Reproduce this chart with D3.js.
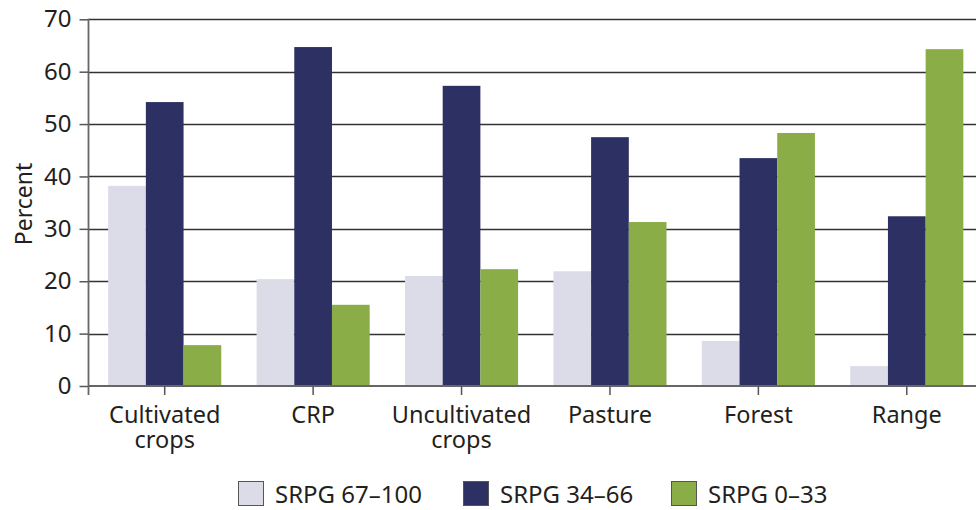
<!DOCTYPE html>
<html><head><meta charset="utf-8">
<script src="https://cdn.jsdelivr.net/npm/d3@7"></script>
<style>body{margin:0;background:#fff}svg{display:block}text{font-family:"Noto Sans",sans-serif;fill:#231f20}</style>
</head><body>
<svg id="chart" width="976" height="510"></svg>
<script>
const categories = [["Cultivated","crops"],["CRP"],["Uncultivated","crops"],["Pasture"],["Forest"],["Range"]];
const seriesNames = ["SRPG 67–100","SRPG 34–66","SRPG 0–33"];
const srpgHigh = [38.2, 20.4, 21.0, 21.9, 8.6, 3.8];
const srpgMid  = [54.2, 64.7, 57.3, 47.5, 43.5, 32.4];
const srpgLow  = [7.8, 15.5, 22.3, 31.3, 48.3, 64.3];
const yTicks = [0,10,20,30,40,50,60,70];
const colors = ["#dcdce8","#2c3063","#8aad48"];

(function(){
const series = [srpgHigh, srpgMid, srpgLow];
const svg = d3.select("#chart");
const pLeft = 88.5, pRight = 976, pTop = 19.3, pBottom = 386;
const catKeys = categories.map((c,i)=>i);

const y = d3.scaleLinear().domain([0,70]).range([pBottom, pTop]);
const x0 = d3.scaleBand().domain(catKeys).range([90.5, 981]).padding(0);
const bw = x0.bandwidth();
const x1 = d3.scaleBand().domain([0,1,2]).range([bw*0.119, bw*0.881]).padding(0);

// gridlines
svg.append("g").selectAll("line").data(yTicks.filter(t=>t>0)).join("line")
  .attr("x1", pLeft).attr("x2", pRight)
  .attr("y1", d=>Math.round(y(d))+0.5).attr("y2", d=>Math.round(y(d))+0.5)
  .attr("stroke", "#333").attr("stroke-width", 1.4);

// bars
const g = svg.append("g");
series.forEach((vals, si) => {
  g.selectAll(null).data(vals).join("rect")
    .attr("x", (d,i)=> x0(i) + x1(si))
    .attr("width", x1.bandwidth())
    .attr("y", d=> y(d))
    .attr("height", d=> y(0) - y(d))
    .attr("fill", colors[si]);
});

// y axis
const yAxis = d3.axisLeft(y).tickValues(yTicks).tickSize(9).tickPadding(8).tickFormat(d3.format("d"));
const ya = svg.append("g").attr("transform", `translate(${pLeft},0)`).call(yAxis);
ya.select(".domain").remove();
ya.selectAll(".tick line").attr("stroke","#555").attr("stroke-width",1.5);
ya.selectAll(".tick text").attr("font-size", 24).attr("fill","#231f20").attr("font-family","Noto Sans");
svg.append("line").attr("x1",pLeft).attr("x2",pLeft).attr("y1",pTop-0.5).attr("y2",395)
  .attr("stroke","#666").attr("stroke-width",1.8);

// x axis
svg.append("line").attr("x1",pLeft).attr("x2",pRight).attr("y1",pBottom).attr("y2",pBottom)
  .attr("stroke","#666").attr("stroke-width",1.8);
const xa = svg.append("g").attr("transform",`translate(0,${pBottom})`)
  .call(d3.axisBottom(x0).tickSize(9).tickFormat(""));
xa.select(".domain").remove();
xa.selectAll(".tick line").attr("stroke","#555").attr("stroke-width",1.5);

// category labels (one text per line)
const labels = svg.append("g");
categories.forEach((lines,i)=>{
  lines.forEach((ln,j)=> labels.append("text").attr("text-anchor","middle").attr("font-size",23.5)
    .attr("x", x0(i)+bw/2).attr("y", 423 + j*25).text(ln));
});

// y label
svg.append("text").attr("transform","translate(32,204) rotate(-90)")
  .attr("text-anchor","middle").attr("font-size",23).text("Percent");

// legend
const legX = [238, 463, 671];
const leg = svg.append("g");
seriesNames.forEach((n,i)=>{
  leg.append("rect").attr("x",legX[i]+0.5).attr("y",481.5).attr("width",25).attr("height",24)
    .attr("fill",colors[i]).attr("stroke","#555").attr("stroke-width",1);
  leg.append("text").attr("x",legX[i]+37).attr("y",503).attr("font-size",24).text(n);
});
})();
</script>
</body></html>
